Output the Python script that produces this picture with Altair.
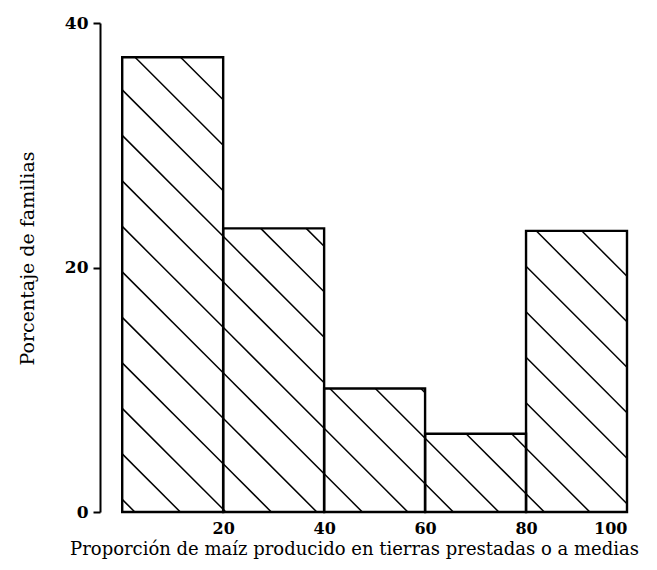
import altair as alt
import pandas as pd
import numpy as np

# ---- data ----
bin_start = [0, 20, 40, 60, 80]
bin_end = [20, 40, 60, 80, 100]
percent = [37.2, 23.2, 10.1, 6.4, 23.0]

x_ticks = [20, 40, 60, 80, 100]
y_ticks = [0, 20, 40]

x_title = "Proporción de maíz producido en tierras prestadas o a medias"
y_title = "Porcentaje de familias"

# ---- style constants ----
W, H = 527, 489
X_DOMAIN = [-4.4, 100]
Y_DOMAIN = [0, 40]
px_per_x = W / (X_DOMAIN[1] - X_DOMAIN[0])
px_per_y = H / (Y_DOMAIN[1] - Y_DOMAIN[0])
HATCH_SLOPE = px_per_x / px_per_y          # 45 degree lines on screen
HATCH_STEP = 45.5 / px_per_x               # spacing along x (data units)
HATCH_PHASE = 2.5                           # bottom crossing of a hatch line

bars = pd.DataFrame({"start": bin_start, "end": bin_end, "pct": percent})

# hatch segments clipped to each bar
segs = []
for a, b, h in zip(bin_start, bin_end, percent):
    k0 = int(np.floor((a - HATCH_PHASE) / HATCH_STEP))
    k1 = int(np.ceil((b + h / HATCH_SLOPE - HATCH_PHASE) / HATCH_STEP))
    for k in range(k0, k1 + 1):
        x0 = HATCH_PHASE + k * HATCH_STEP
        xl = max(a, x0 - h / HATCH_SLOPE)
        xr = min(b, x0)
        if xr - xl > 1e-6:
            segs.append({"x": xl, "y": HATCH_SLOPE * (x0 - xl),
                         "x2": xr, "y2": HATCH_SLOPE * (x0 - xr)})
hatch = pd.DataFrame(segs)

xscale = alt.Scale(domain=X_DOMAIN, nice=False, zero=False)
yscale = alt.Scale(domain=Y_DOMAIN, nice=False)

FONT = "DejaVu Serif"

x_axis = alt.Axis(
    values=x_ticks, title=x_title, domain=False, ticks=False, tickSize=0,
    grid=False, labelPadding=8, labelFont=FONT, labelFontSize=16,
    labelFontWeight="bold", labelColor="black",
    titleFont=FONT, titleFontSize=18, titleFontWeight="normal",
    titleColor="black", titleX=254, titleY=42, titleBaseline="alphabetic",
    titleAnchor="middle", titleAlign="center",
)
y_axis = alt.Axis(
    values=y_ticks, title=y_title, domain=True, domainColor="black",
    domainWidth=2, ticks=True, tickSize=7, tickColor="black", tickWidth=2,
    grid=False, labelPadding=5, labelFont=FONT, labelFontSize=17,
    labelFontWeight="bold", labelColor="black",
    titleFont=FONT, titleFontSize=19, titleFontWeight="normal",
    titleColor="black", titleX=-63, titleY=235, titleAngle=-90,
    titleBaseline="bottom", titleAlign="center",
)

hatch_layer = alt.Chart(hatch).mark_rule(color="black", strokeWidth=1.5).encode(
    x=alt.X("x:Q", scale=xscale, axis=x_axis),
    y=alt.Y("y:Q", scale=yscale, axis=y_axis),
    x2="x2:Q",
    y2="y2:Q",
)

bar_layer = alt.Chart(bars).mark_rect(
    fill="white", fillOpacity=0, stroke="black", strokeWidth=2.4
).encode(
    x=alt.X("start:Q", scale=xscale, axis=x_axis),
    x2="end:Q",
    y=alt.Y("pct:Q", scale=yscale, axis=y_axis),
    y2=alt.datum(0),
)

chart = alt.layer(hatch_layer, bar_layer).properties(
    width=W, height=H,
    autosize=alt.AutoSizeParams(type="none"),
    padding={"left": 92, "top": 15, "right": 20, "bottom": 50},
    background="white",
).configure_view(stroke=None)

chart.save("out.html", embed_options={"renderer": "svg", "actions": False})
